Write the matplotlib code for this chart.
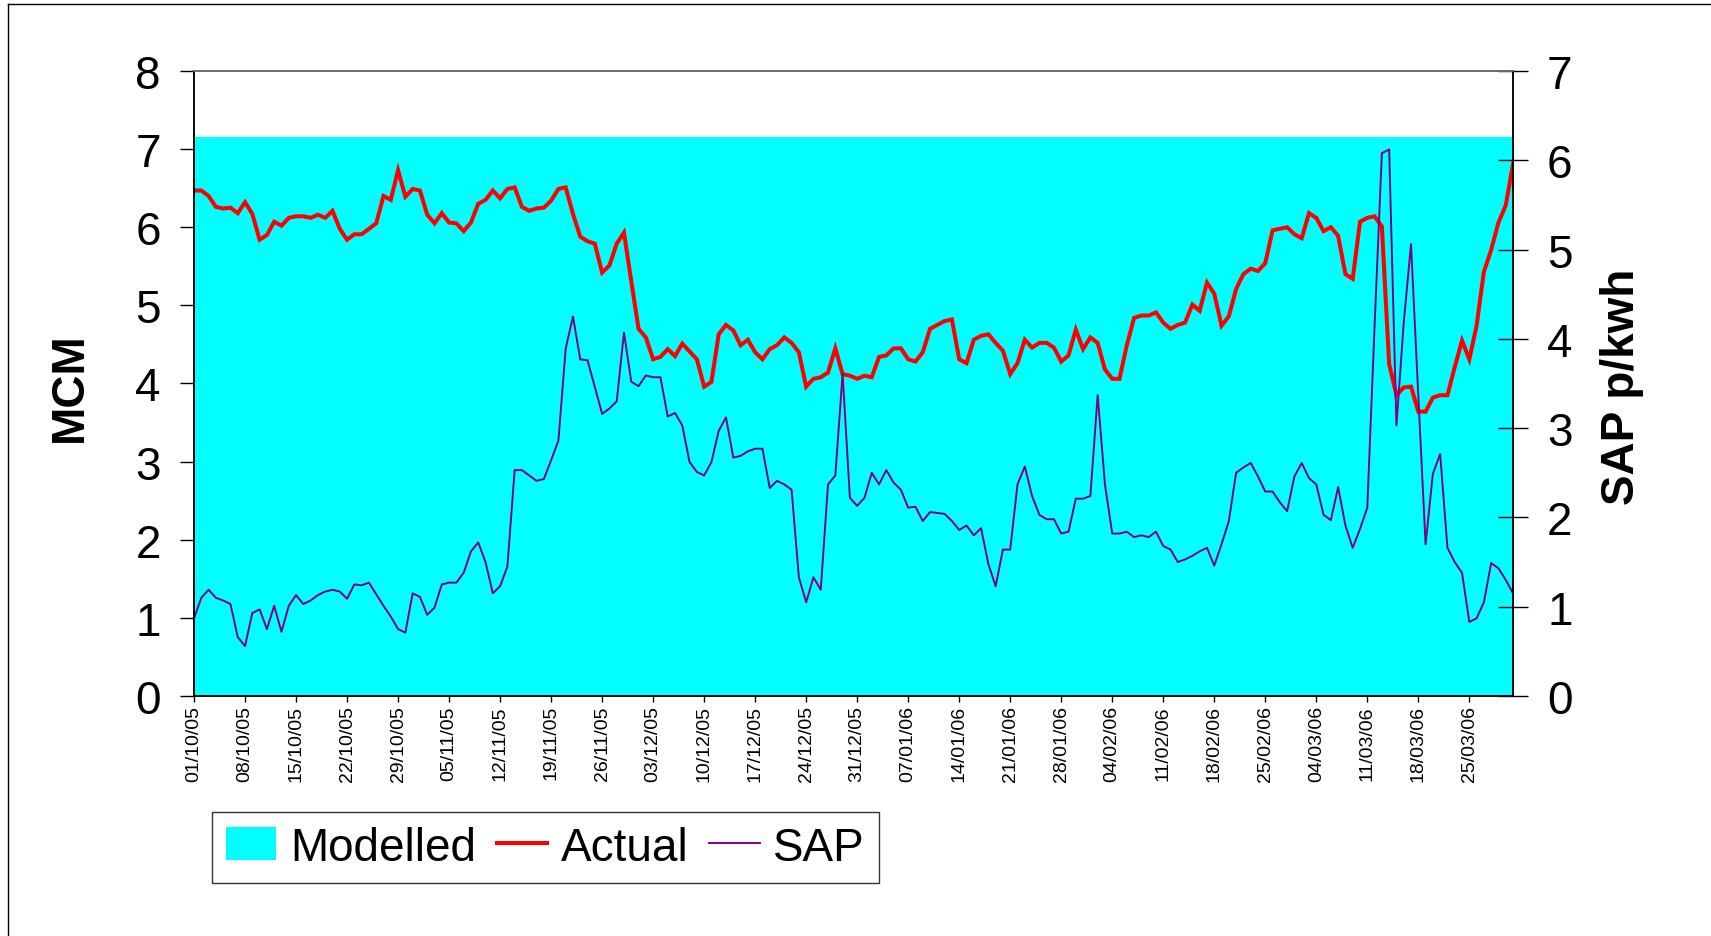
import matplotlib
matplotlib.use("Agg")
import matplotlib.pyplot as plt
from matplotlib.lines import Line2D
from matplotlib.patches import Patch

plt.rcParams['font.family'] = ['Liberation Sans', 'DejaVu Sans']

# -----------------------
# DATA (daily, 01/10/05 .. 31/03/06)
actual = [
    6.47, 6.47, 6.40, 6.26, 6.24, 6.25, 6.18, 6.32, 6.17, 5.84,
    5.90, 6.07, 6.02, 6.12, 6.14, 6.14, 6.12, 6.16, 6.12, 6.21,
    5.98, 5.84, 5.91, 5.91, 5.98, 6.05, 6.40, 6.35, 6.73, 6.39,
    6.49, 6.47, 6.16, 6.05, 6.18, 6.06, 6.05, 5.95, 6.06, 6.30,
    6.35, 6.47, 6.37, 6.49, 6.51, 6.26, 6.21, 6.24, 6.25, 6.34,
    6.49, 6.51, 6.17, 5.88, 5.82, 5.79, 5.42, 5.51, 5.79, 5.93,
    5.31, 4.70, 4.59, 4.31, 4.34, 4.44, 4.35, 4.51, 4.41, 4.31,
    3.96, 4.02, 4.63, 4.75, 4.68, 4.49, 4.56, 4.40, 4.31, 4.44,
    4.49, 4.59, 4.52, 4.40, 3.96, 4.06, 4.08, 4.14, 4.45, 4.12,
    4.10, 4.06, 4.10, 4.08, 4.34, 4.36, 4.45, 4.45, 4.31, 4.28,
    4.40, 4.70, 4.75, 4.80, 4.82, 4.31, 4.26, 4.56, 4.61, 4.63,
    4.52, 4.42, 4.12, 4.26, 4.56, 4.46, 4.52, 4.52, 4.46, 4.28,
    4.36, 4.69, 4.44, 4.59, 4.52, 4.18, 4.06, 4.06, 4.49, 4.84,
    4.87, 4.87, 4.91, 4.78, 4.70, 4.75, 4.78, 5.01, 4.93, 5.29,
    5.15, 4.74, 4.86, 5.21, 5.40, 5.47, 5.44, 5.54, 5.96, 5.98,
    6.00, 5.91, 5.86, 6.18, 6.12, 5.95, 6.00, 5.89, 5.40, 5.34,
    6.07, 6.12, 6.14, 6.01, 4.25, 3.85, 3.95, 3.96, 3.64, 3.64,
    3.82, 3.85, 3.85, 4.21, 4.55, 4.31, 4.74, 5.43, 5.71, 6.06,
    6.28, 6.81,
]

sap = [
    0.87, 1.10, 1.19, 1.10, 1.07, 1.03, 0.66, 0.56, 0.93, 0.97,
    0.75, 1.01, 0.72, 1.01, 1.13, 1.03, 1.07, 1.13, 1.17, 1.19,
    1.17, 1.09, 1.25, 1.24, 1.27, 1.14, 1.01, 0.89, 0.75, 0.71,
    1.15, 1.11, 0.91, 0.99, 1.25, 1.27, 1.27, 1.38, 1.62, 1.72,
    1.50, 1.15, 1.23, 1.45, 2.53, 2.53, 2.47, 2.41, 2.43, 2.64,
    2.86, 3.89, 4.25, 3.77, 3.76, 3.46, 3.16, 3.22, 3.30, 4.07,
    3.52, 3.47, 3.59, 3.57, 3.57, 3.13, 3.17, 3.03, 2.62, 2.51,
    2.47, 2.62, 2.97, 3.12, 2.67, 2.69, 2.74, 2.77, 2.77, 2.33,
    2.41, 2.37, 2.31, 1.33, 1.05, 1.33, 1.19, 2.37, 2.47, 3.61,
    2.22, 2.13, 2.22, 2.50, 2.37, 2.53, 2.39, 2.31, 2.11, 2.12,
    1.96, 2.06, 2.05, 2.04, 1.96, 1.86, 1.91, 1.80, 1.88, 1.48,
    1.23, 1.64, 1.64, 2.37, 2.57, 2.24, 2.03, 1.98, 1.98, 1.82,
    1.84, 2.21, 2.21, 2.24, 3.37, 2.37, 1.82, 1.82, 1.84, 1.78,
    1.80, 1.78, 1.84, 1.68, 1.64, 1.50, 1.53, 1.57, 1.62, 1.66,
    1.46, 1.70, 1.96, 2.50, 2.56, 2.61, 2.46, 2.29, 2.29, 2.17,
    2.07, 2.46, 2.61, 2.44, 2.37, 2.03, 1.97, 2.34, 1.91, 1.66,
    1.87, 2.11, 4.14, 6.08, 6.12, 3.03, 4.18, 5.06, 3.36, 1.70,
    2.49, 2.71, 1.66, 1.50, 1.38, 0.83, 0.87, 1.05, 1.49, 1.43,
    1.30, 1.15,
]

# Modelled is flat over the whole period
modelled_level = 7.16

tick_labels = [
    "01/10/05", "08/10/05", "15/10/05", "22/10/05", "29/10/05", "05/11/05",
    "12/11/05", "19/11/05", "26/11/05", "03/12/05", "10/12/05", "17/12/05",
    "24/12/05", "31/12/05", "07/01/06", "14/01/06", "21/01/06", "28/01/06",
    "04/02/06", "11/02/06", "18/02/06", "25/02/06", "04/03/06", "11/03/06",
    "18/03/06", "25/03/06",
]

days = list(range(len(actual)))

# -----------------------
# PLOT
fig = plt.figure(figsize=(17.11, 9.37), dpi=100)
ax = fig.add_axes([0.1134, 0.2561, 0.7709, 0.6671])
ax2 = ax.twinx()

ax.fill_between(days, 0, modelled_level, color='#00FFFF', lw=0)
ax.plot(days, actual, color='#FF0000', lw=2.9, solid_joinstyle='miter')
ax2.plot(days, sap, color='#800080', lw=1.4)

ax.set_xlim(0, days[-1])
ax.set_ylim(0, 8)
ax2.set_ylim(0, 7)
ax.set_yticks(range(0, 9))
ax2.set_yticks(range(0, 8))
ax.set_xticks(range(0, len(tick_labels) * 7, 7))
ax.set_xticklabels(tick_labels, rotation=90, fontsize=14)

ax.tick_params(axis='y', labelsize=33, length=10, width=1, pad=14, direction='out')
ax2.tick_params(axis='y', labelsize=33, length=21, width=1, pad=14, direction='inout')
ax.tick_params(axis='x', length=4.5, width=1, pad=2, direction='out')

for a in (ax, ax2):
    for s in a.spines.values():
        s.set_linewidth(1.1)
        s.set_color('black')
ax2.spines['top'].set_color('#808080')

ax.set_ylabel("MCM", fontsize=33, fontweight='bold')
ax.yaxis.set_label_coords(-0.0773, 0.496)
ax2.set_ylabel("SAP p/kwh", fontsize=33, fontweight='bold', rotation=90)
ax2.yaxis.set_label_coords(1.066, 0.496)

handles = [
    Patch(facecolor='#00FFFF', edgecolor='none'),
    Line2D([], [], color='#FF0000', lw=2.9),
    Line2D([], [], color='#800080', lw=1.4),
]
leg = fig.legend(handles, ["Modelled", "Actual", "SAP"], loc='center',
                 bbox_to_anchor=(0.3188, 0.0944), ncol=3, fontsize=33,
                 frameon=True, fancybox=False, shadow=False,
                 handlelength=1.1, handleheight=0.72, handletextpad=0.3,
                 columnspacing=0.45, borderpad=0.3)
leg.get_frame().set_edgecolor('black')
leg.get_frame().set_linewidth(1.0)

# chart-area border (only top and left are inside the image)
fig.add_artist(Line2D([8 / 1711, 8 / 1711], [0, 1 - 5 / 937],
                      transform=fig.transFigure, color='black', lw=1))
fig.add_artist(Line2D([8 / 1711, 1], [1 - 5 / 937, 1 - 5 / 937],
                      transform=fig.transFigure, color='black', lw=1))

fig.savefig("out.png", dpi=100)
